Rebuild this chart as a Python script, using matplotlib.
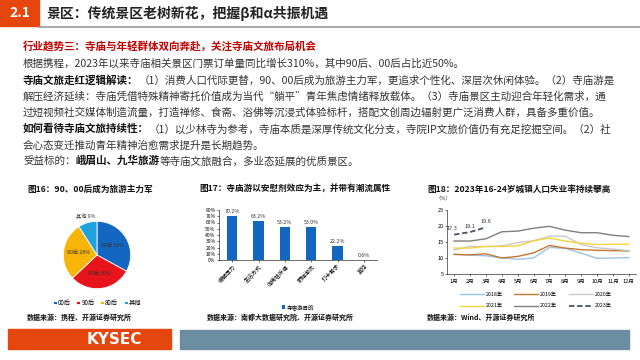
import matplotlib
matplotlib.use("Agg")
import matplotlib.pyplot as plt
from matplotlib.patches import Rectangle
import numpy as np

plt.rcParams['font.family'] = ['Noto Sans CJK SC', 'DejaVu Sans']

# pie data (fig 16)
pie_labels = ["00后", "90后", "80后", "其他"]
pie_vals = [33, 30, 28, 9]
pie_colors = ["#1467c0", "#e8141b", "#f8b407", "#1fa2dc"]

# bar data (fig 17)
bar_cats = ["缓解压力", "生活方式", "向佛祖祈福", "跟随潮流", "打卡需求", "其他"]
bar_vals = [70.2, 63.2, 53.2, 53.0, 22.2, 0.6]

# line data (fig 18)
months = ["1月", "2月", "3月", "4月", "5月", "6月", "7月", "8月", "9月", "10月", "11月", "12月"]
u2018 = [11.2, 10.9, 10.7, 10.0, 9.6, 10.0, 13.3, 13.0, 11.5, 9.9, 10.0, 10.1]
u2019 = [11.1, 11.0, 11.3, 10.0, 10.5, 11.6, 13.9, 13.1, 12.6, 12.4, 12.3, 12.2]
u2020 = [12.5, 13.6, 13.6, 13.8, 14.8, 15.4, 16.8, 16.8, 14.2, 13.2, 12.8, 12.3]
u2021 = [13.1, 13.1, 13.6, 13.6, 13.8, 15.4, 16.2, 15.3, 14.6, 14.2, 14.3, 14.3]
u2022 = [15.3, 15.3, 16.0, 18.2, 18.4, 19.3, 19.9, 18.7, 17.9, 17.9, 17.1, 16.7]
u2023 = [17.3, 18.1, 19.6]

W, H = 640, 360
fig = plt.figure(figsize=(6.4, 3.6), dpi=100)
renderer = fig.canvas.get_renderer()


def fx(x):
    return x / W


def fy(y):
    return 1 - y / H


def run(x, y, parts, size=7.6):
    # parts: list of (text, bold, color), drawn one after the other
    for s, bold, col in parts:
        t = fig.text(fx(x), fy(y), s, fontsize=size, va='center', ha='left',
                     fontweight='bold' if bold else 'normal', color=col)
        x += t.get_window_extent(renderer).width


def rect(x0, y0, x1, y1, col):
    fig.patches.append(Rectangle((fx(x0), fy(y1)), fx(x1 - x0), (y1 - y0) / H,
                                 transform=fig.transFigure, color=col, zorder=0))


# header
rect(0, 0, 39, 26, "#e5460e")
fig.text(fx(19.5), fy(13), "2.1", color="white", fontsize=10, fontweight='bold', ha='center', va='center')
fig.text(fx(47), fy(13), "景区：传统景区老树新花，把握β和α共振机遇", fontsize=10,
         fontweight='bold', color="#222222", va='center')
fig.lines.append(plt.Line2D([fx(39), 1], [fy(27), fy(27)], transform=fig.transFigure,
                            color="#9a9a9a", lw=1.2))

dk = "#333333"
red = "#c00000"
run(23, 46, [("行业趋势三：寺庙与年轻群体双向奔赴，关注寺庙文旅布局机会", True, red)])
run(23, 63, [("根据携程，2023年以来寺庙相关景区门票订单量同比增长310%，其中90后、00后占比近50%。", False, dk)])
run(23, 80, [("寺庙文旅走红逻辑解读：", True, "#111111"),
             ("（1）消费人口代际更替，90、00后成为旅游主力军，更追求个性化、深层次休闲体验。（2）寺庙游是", False, dk)])
run(23, 96, [("解压经济延续：寺庙凭借特殊精神寄托价值成为当代“躺平”青年焦虑情绪释放载体。（3）寺庙景区主动迎合年轻化需求，通", False, dk)])
run(23, 112, [("过短视频社交媒体制造流量，打造禅修、食斋、浴佛等沉浸式体验标杆，搭配文创周边辐射更广泛消费人群，具备多重价值。", False, dk)])
run(23, 129, [("如何看待寺庙文旅持续性：", True, "#111111"),
              ("（1）以少林寺为参考，寺庙本质是深厚传统文化分支，寺院IP文旅价值仍有充足挖掘空间。（2）社", False, dk)])
run(23, 145, [("会心态变迁推动青年精神治愈需求提升是长期趋势。", False, dk)])
run(23, 161, [("受益标的：", False, dk), ("峨眉山、九华旅游", True, "#111111"),
              ("等寺庙文旅融合，多业态延展的优质景区。", False, dk)])

# chart titles and sources
ts = 6.2
fig.text(fx(27), fy(189), "图16：90、00后成为旅游主力军", fontsize=ts, fontweight='bold', va='center', color="#111111")
fig.text(fx(199), fy(189), "图17：寺庙游以安慰剂效应为主，并带有潮流属性", fontsize=ts, fontweight='bold', va='center', color="#111111")
fig.text(fx(427), fy(189), "图18：2023年16-24岁城镇人口失业率持续攀高", fontsize=ts, fontweight='bold', va='center', color="#111111")
ss = 5
fig.text(fx(27), fy(317), "数据来源：携程、开源证券研究所", fontsize=ss, fontweight='bold', va='center', color="#111111")
fig.text(fx(207), fy(317), "数据来源：南都大数据研究院、开源证券研究所", fontsize=ss, fontweight='bold', va='center', color="#111111")
fig.text(fx(427), fy(317), "数据来源：Wind、开源证券研究所", fontsize=ss, fontweight='bold', va='center', color="#111111")

# ---- pie
axp = fig.add_axes([fx(63), fy(289), 68 / W, 68 / H])
wedges, _ = axp.pie(pie_vals, colors=pie_colors, startangle=90, counterclock=False,
                    wedgeprops=dict(edgecolor='white', linewidth=0.6))
axp.set_xlim(-1.01, 1.01)
axp.set_ylim(-1.01, 1.01)
axp.set_aspect('equal')
for w, lab, v in zip(wedges, pie_labels, pie_vals):
    ang = np.deg2rad((w.theta1 + w.theta2) / 2)
    r = 0.55 if v > 15 else 1.2
    axp.text(r * np.cos(ang), r * np.sin(ang), f"{lab} {v}%", fontsize=3.8,
             ha='center', va='center', color="#333333")
axp.legend(wedges, pie_labels, loc='upper center', bbox_to_anchor=(0.5, -0.06), ncol=4,
           fontsize=4.5, frameon=False, handlelength=0.6, handleheight=0.6,
           columnspacing=0.9, handletextpad=0.2)

# ---- bars
axb = fig.add_axes([fx(219), fy(260), 158 / W, 50 / H])
xb = np.arange(len(bar_cats))
bars = axb.bar(xb, bar_vals, width=0.4, color="#1467c0", label="寺庙游目的")
axb.set_ylim(0, 80)
axb.set_xlim(-0.5, len(bar_cats) - 0.5)
axb.set_yticks(range(0, 81, 10))
axb.set_yticklabels([f"{v}%" for v in range(0, 81, 10)], fontsize=3.6)
axb.set_xticks(xb)
axb.set_xticklabels(bar_cats, rotation=45, ha='right', fontsize=4, rotation_mode='anchor')
for b, v in zip(bars, bar_vals):
    axb.text(b.get_x() + b.get_width() / 2, v + 3, f"{v:.1f}%", ha='center', va='bottom', fontsize=3.8, color="#333333")
for s in ['top', 'right']:
    axb.spines[s].set_visible(False)
axb.spines['left'].set_linewidth(0.4)
axb.spines['bottom'].set_linewidth(0.4)
axb.tick_params(length=1.5, width=0.4, pad=1)
axb.legend(loc='upper center', bbox_to_anchor=(0.5, -0.78), fontsize=4, frameon=False,
           handlelength=0.6, handleheight=0.6, handletextpad=0.3)

# ---- lines
axl = fig.add_axes([fx(447), fy(274), 189 / W, 64 / H])
xm = np.arange(1, 13)
l18, = axl.plot(xm, u2018, color="#9dc3e6", lw=1.0, label="2018年")
l19, = axl.plot(xm, u2019, color="#c5772f", lw=1.0, label="2019年")
l20, = axl.plot(xm, u2020, color="#c9c9c9", lw=1.0, label="2020年")
l21, = axl.plot(xm, u2021, color="#f5d33c", lw=1.0, label="2021年")
l22, = axl.plot(xm, u2022, color="#7f7f7f", lw=1.0, label="2022年")
l23, = axl.plot(xm[:len(u2023)], u2023, color="#44546a", lw=1.3, ls=(0, (3, 1.5)), label="2023年")
axl.text(1 - 0.15, u2023[0] + 1.0, f"{u2023[0]}", fontsize=4, ha='center', va='bottom', color="#333333")
axl.text(2, u2023[1] + 1.0, f"{u2023[1]}", fontsize=4, ha='center', va='bottom', color="#333333")
axl.text(3, u2023[2] + 1.0, f"{u2023[2]}", fontsize=4, ha='center', va='bottom', color="#333333")
axl.set_xlim(0.55, 12.45)
axl.set_ylim(5, 25)
axl.set_yticks([5, 10, 15, 20, 25])
axl.set_xticks(xm)
axl.set_xticklabels(months, fontsize=4)
axl.tick_params(axis='y', labelsize=4, length=1.5, width=0.4, pad=1)
axl.tick_params(axis='x', length=1.5, width=0.4, pad=2)
for s in ['top', 'right']:
    axl.spines[s].set_visible(False)
axl.spines['left'].set_linewidth(0.4)
axl.spines['bottom'].set_linewidth(0.4)
fig.text(fx(435), fy(199), "（%）", fontsize=3.8, va='center', color="#333333")
axl.legend([l18, l21, l19, l22, l20, l23], ["2018年", "2021年", "2019年", "2022年", "2020年", "2023年"],
           loc='upper center', bbox_to_anchor=(0.47, -0.2), ncol=3, fontsize=3.8, frameon=False,
           handlelength=4.5, columnspacing=2.2, handletextpad=0.4, labelspacing=1.3)

# footer
rect(8, 329, 171, 349, "#e5460e")
fig.text(fx(114), fy(339), "KYSEC", color="white", fontsize=11, fontweight='bold',
         ha='center', va='center', family=['DejaVu Sans'])
rect(180, 330, 629, 349, "#6b8ea0")

fig.savefig("out.png", dpi=100)
